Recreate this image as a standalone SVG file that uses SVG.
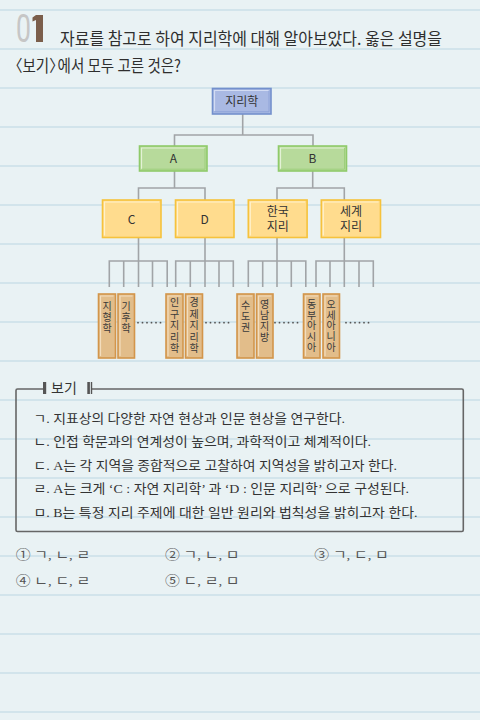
<svg xmlns="http://www.w3.org/2000/svg" width="480" height="720" viewBox="0 0 480 720">
<defs>
<style>
.rule{stroke:#d2e4eb;stroke-width:2}
.conn{stroke:#a1a4a7;stroke-width:1.6;fill:none}
.lbl{font-family:"Noto Sans CJK KR","Liberation Sans",sans-serif;font-size:12px;fill:#333;text-anchor:middle}
.leaf{font-family:"Noto Sans CJK KR",sans-serif;font-size:10px;fill:#3a3a3a;text-anchor:middle}
.q{font-family:"Noto Sans CJK KR","Liberation Sans",sans-serif;font-size:16.5px;fill:#2e2e2e}
.item{font-family:"Liberation Serif","Noto Sans CJK KR",serif;font-size:13px;fill:#333}
.ans{font-family:"Liberation Serif","Noto Sans CJK KR",serif;font-size:13px;fill:#555}
.dots{stroke:#555;stroke-width:1.8;stroke-linecap:round;stroke-dasharray:0 4.5}
</style>
</defs>
<rect width="480" height="720" fill="#e9f2f4"/>
<g id="rules">
<line class="rule" x1="0" y1="10" x2="480" y2="10"/>
<line class="rule" x1="0" y1="49" x2="480" y2="49"/>
<line class="rule" x1="0" y1="88" x2="480" y2="88"/>
<line class="rule" x1="0" y1="127" x2="480" y2="127"/>
<line class="rule" x1="0" y1="166" x2="480" y2="166"/>
<line class="rule" x1="0" y1="205" x2="480" y2="205"/>
<line class="rule" x1="0" y1="244" x2="480" y2="244"/>
<line class="rule" x1="0" y1="283" x2="480" y2="283"/>
<line class="rule" x1="0" y1="322" x2="480" y2="322"/>
<line class="rule" x1="0" y1="361" x2="480" y2="361"/>
<line class="rule" x1="0" y1="400" x2="480" y2="400"/>
<line class="rule" x1="0" y1="439" x2="480" y2="439"/>
<line class="rule" x1="0" y1="478" x2="480" y2="478"/>
<line class="rule" x1="0" y1="517" x2="480" y2="517"/>
<line class="rule" x1="0" y1="556" x2="480" y2="556"/>
<line class="rule" x1="0" y1="595" x2="480" y2="595"/>
<line class="rule" x1="0" y1="634" x2="480" y2="634"/>
<line class="rule" x1="0" y1="673" x2="480" y2="673"/>
<line class="rule" x1="0" y1="712" x2="480" y2="712"/>
</g>
<g id="header">
<text x="16" y="42" font-family="Roboto,'Liberation Sans',sans-serif" font-size="38" font-weight="400" fill="#c6c6c6" textLength="15" lengthAdjust="spacingAndGlyphs">0</text>
<path d="M36,15 H43 V42 H36 V20 L32.5,21.5 V17.5 Z" fill="#7b5e4b"/>
<text class="q" x="60" y="45" textLength="382" lengthAdjust="spacingAndGlyphs">자료를 참고로 하여 지리학에 대해 알아보았다. 옳은 설명을</text>
<g transform="translate(8,72) scale(0.88,1)">
<text class="q" x="0" y="0">〈보기〉<tspan dx="-7">에서 모두 고른 것은?</tspan></text>
</g>
</g>
<g id="connectors">
<polyline class="conn" points="242.7,114 242.7,135"/>
<polyline class="conn" points="174.5,146 174.5,135 313,135 313,146"/>
<polyline class="conn" points="174.5,171 174.5,188"/>
<polyline class="conn" points="138.5,200 138.5,188 205,188 205,200"/>
<polyline class="conn" points="312.7,171 312.7,188"/>
<polyline class="conn" points="277,200 277,188 344.3,188 344.3,200"/>
<polyline class="conn" points="138.5,238 138.5,261"/>
<polyline class="conn" points="205,238 205,261"/>
<polyline class="conn" points="277,238 277,261"/>
<polyline class="conn" points="344.3,238 344.3,261"/>
<polyline class="conn" points="109.3,287 109.3,261 167.2,261 167.2,287"/>
<line class="conn" x1="123.7" y1="261" x2="123.7" y2="287"/>
<line class="conn" x1="138.5" y1="261" x2="138.5" y2="287"/>
<line class="conn" x1="152.5" y1="261" x2="152.5" y2="287"/>
<polyline class="conn" points="175.7,287 175.7,261 233.3,261 233.3,287"/>
<line class="conn" x1="190.3" y1="261" x2="190.3" y2="287"/>
<line class="conn" x1="205" y1="261" x2="205" y2="287"/>
<line class="conn" x1="219" y1="261" x2="219" y2="287"/>
<polyline class="conn" points="248.3,287 248.3,261 305.8,261 305.8,287"/>
<line class="conn" x1="262.7" y1="261" x2="262.7" y2="287"/>
<line class="conn" x1="277" y1="261" x2="277" y2="287"/>
<line class="conn" x1="291.3" y1="261" x2="291.3" y2="287"/>
<polyline class="conn" points="316,287 316,261 373.3,261 373.3,287"/>
<line class="conn" x1="330" y1="261" x2="330" y2="287"/>
<line class="conn" x1="344.3" y1="261" x2="344.3" y2="287"/>
<line class="conn" x1="359" y1="261" x2="359" y2="287"/>
<line class="dots" x1="138" y1="322.7" x2="164" y2="322.7"/>
<line class="dots" x1="206" y1="322.7" x2="232" y2="322.7"/>
<line class="dots" x1="275" y1="322.7" x2="298" y2="322.7"/>
<line class="dots" x1="346" y1="322.7" x2="370" y2="322.7"/>
</g>
<g id="node-root">
<rect x="212.5" y="88.5" width="58.5" height="25.5" fill="#a9b9e3" stroke="#7390cc" stroke-width="1.6"/>
<polyline points="214.5,111 214.5,90.5 269,90.5" fill="none" stroke="#d3dcf3" stroke-width="1.2"/>
<polyline points="214.5,111.8 269,111.8 269,90.5" fill="none" stroke="#8ea3d8" stroke-width="1"/>
<text class="lbl" x="241.7" y="105.5">지리학</text>
</g>
<g id="node-A">
<rect x="139.5" y="146" width="67.5" height="25" fill="#b7da9b" stroke="#8fca6a" stroke-width="1.6"/>
<polyline points="141.5,169 141.5,148 205,148" fill="none" stroke="#e3f2d6" stroke-width="1.2"/>
<polyline points="141.5,169.2 205,169.2 205,148" fill="none" stroke="#9dcf7c" stroke-width="1"/>
<text class="lbl" x="173.3" y="163">A</text>
</g>
<g id="node-B">
<rect x="278.5" y="146" width="68" height="25" fill="#b7da9b" stroke="#8fca6a" stroke-width="1.6"/>
<polyline points="280.5,169 280.5,148 344.5,148" fill="none" stroke="#e3f2d6" stroke-width="1.2"/>
<polyline points="280.5,169.2 344.5,169.2 344.5,148" fill="none" stroke="#9dcf7c" stroke-width="1"/>
<text class="lbl" x="312.5" y="163">B</text>
</g>
<g id="node-C">
<rect x="102.5" y="200" width="58.5" height="37.5" fill="#ffdc8e" stroke="#f6c23c" stroke-width="1.6"/>
<polyline points="104.5,235.5 104.5,202 159,202" fill="none" stroke="#fff1cb" stroke-width="1.2"/>
<text class="lbl" x="131.7" y="223.5">C</text>
</g>
<g id="node-D">
<rect x="175.5" y="200" width="58.5" height="37.5" fill="#ffdc8e" stroke="#f6c23c" stroke-width="1.6"/>
<polyline points="177.5,235.5 177.5,202 232,202" fill="none" stroke="#fff1cb" stroke-width="1.2"/>
<text class="lbl" x="204.7" y="223.5">D</text>
</g>
<g id="node-korea">
<rect x="248.3" y="200" width="58.8" height="37.5" fill="#ffdc8e" stroke="#f6c23c" stroke-width="1.6"/>
<polyline points="250.3,235.5 250.3,202 305,202" fill="none" stroke="#fff1cb" stroke-width="1.2"/>
<text class="lbl" x="277.7" y="216">한국</text>
<text class="lbl" x="277.7" y="231">지리</text>
</g>
<g id="node-world">
<rect x="321.3" y="200" width="59.2" height="37.5" fill="#ffdc8e" stroke="#f6c23c" stroke-width="1.6"/>
<polyline points="323.3,235.5 323.3,202 378.5,202" fill="none" stroke="#fff1cb" stroke-width="1.2"/>
<text class="lbl" x="351" y="216">세계</text>
<text class="lbl" x="351" y="231">지리</text>
</g>
<g id="leaf-1">
<rect x="98.5" y="294" width="17" height="64" fill="#e2bd8a" stroke="#d3954a" stroke-width="1.6"/>
<polyline points="100.5,356 100.5,296 113.5,296" fill="none" stroke="#f3ddbd" stroke-width="1.2"/>
<text class="leaf" x="107" y="310"><tspan x="107">지</tspan><tspan x="107" dy="11">형</tspan><tspan x="107" dy="11">학</tspan></text>
</g>
<g id="leaf-2">
<rect x="118" y="294" width="16.5" height="64" fill="#e2bd8a" stroke="#d3954a" stroke-width="1.6"/>
<polyline points="120,356 120,296 132.5,296" fill="none" stroke="#f3ddbd" stroke-width="1.2"/>
<text class="leaf" x="126.2" y="310"><tspan x="126.2">기</tspan><tspan x="126.2" dy="11">후</tspan><tspan x="126.2" dy="11">학</tspan></text>
</g>
<g id="leaf-3">
<rect x="166" y="294" width="17" height="64" fill="#e2bd8a" stroke="#d3954a" stroke-width="1.6"/>
<polyline points="168,356 168,296 181,296" fill="none" stroke="#f3ddbd" stroke-width="1.2"/>
<text class="leaf" x="174.5" y="306"><tspan x="174.5">인</tspan><tspan x="174.5" dy="11.5">구</tspan><tspan x="174.5" dy="11.5">지</tspan><tspan x="174.5" dy="11.5">리</tspan><tspan x="174.5" dy="11.5">학</tspan></text>
</g>
<g id="leaf-4">
<rect x="185.5" y="294" width="17" height="64" fill="#e2bd8a" stroke="#d3954a" stroke-width="1.6"/>
<polyline points="187.5,356 187.5,296 200.5,296" fill="none" stroke="#f3ddbd" stroke-width="1.2"/>
<text class="leaf" x="194" y="306"><tspan x="194">경</tspan><tspan x="194" dy="11.5">제</tspan><tspan x="194" dy="11.5">지</tspan><tspan x="194" dy="11.5">리</tspan><tspan x="194" dy="11.5">학</tspan></text>
</g>
<g id="leaf-5">
<rect x="237" y="294" width="17" height="64" fill="#e2bd8a" stroke="#d3954a" stroke-width="1.6"/>
<polyline points="239,356 239,296 252,296" fill="none" stroke="#f3ddbd" stroke-width="1.2"/>
<text class="leaf" x="245.5" y="309"><tspan x="245.5">수</tspan><tspan x="245.5" dy="11">도</tspan><tspan x="245.5" dy="11">권</tspan></text>
</g>
<g id="leaf-6">
<rect x="256.5" y="294" width="16.5" height="64" fill="#e2bd8a" stroke="#d3954a" stroke-width="1.6"/>
<polyline points="258.5,356 258.5,296 271,296" fill="none" stroke="#f3ddbd" stroke-width="1.2"/>
<text class="leaf" x="264.7" y="308"><tspan x="264.7">영</tspan><tspan x="264.7" dy="11">남</tspan><tspan x="264.7" dy="11">지</tspan><tspan x="264.7" dy="11">방</tspan></text>
</g>
<g id="leaf-7">
<rect x="303.5" y="294" width="16.5" height="64" fill="#e2bd8a" stroke="#d3954a" stroke-width="1.6"/>
<polyline points="305.5,356 305.5,296 318,296" fill="none" stroke="#f3ddbd" stroke-width="1.2"/>
<text class="leaf" x="311.7" y="308"><tspan x="311.7">동</tspan><tspan x="311.7" dy="10.7">부</tspan><tspan x="311.7" dy="10.7">아</tspan><tspan x="311.7" dy="10.7">시</tspan><tspan x="311.7" dy="10.7">아</tspan></text>
</g>
<g id="leaf-8">
<rect x="323" y="294" width="16.5" height="64" fill="#e2bd8a" stroke="#d3954a" stroke-width="1.6"/>
<polyline points="325,356 325,296 337.5,296" fill="none" stroke="#f3ddbd" stroke-width="1.2"/>
<text class="leaf" x="331.2" y="308"><tspan x="331.2">오</tspan><tspan x="331.2" dy="10.7">세</tspan><tspan x="331.2" dy="10.7">아</tspan><tspan x="331.2" dy="10.7">니</tspan><tspan x="331.2" dy="10.7">아</tspan></text>
</g>
<g id="bogi">
<path d="M43,389 H17.5 Q16,389 16,390.5 V530 Q16,531.5 17.5,531.5 H461.8 Q463.3,531.5 463.3,530 V390.5 Q463.3,389 461.8,389 H92" fill="none" stroke="#666" stroke-width="1.6"/>
<rect x="43" y="382" width="3.2" height="12" fill="#555"/>
<text x="51" y="392.5" font-family="'Noto Sans CJK KR',sans-serif" font-size="14" fill="#333">보기</text>
<rect x="87.3" y="382" width="2.6" height="12" fill="#555"/>
<rect x="90.8" y="382" width="1.4" height="12" fill="#555"/>
<text class="item" x="33.5" y="423.3" textLength="311.5" lengthAdjust="spacingAndGlyphs">ㄱ. 지표상의 다양한 자연 현상과 인문 현상을 연구한다.</text>
<text class="item" x="33.5" y="446.3" textLength="337.5" lengthAdjust="spacingAndGlyphs">ㄴ. 인접 학문과의 연계성이 높으며, 과학적이고 체계적이다.</text>
<text class="item" x="33.5" y="469.6" textLength="363.5" lengthAdjust="spacingAndGlyphs">ㄷ. A는 각 지역을 종합적으로 고찰하여 지역성을 밝히고자 한다.</text>
<text class="item" x="33.5" y="493" textLength="375.5" lengthAdjust="spacingAndGlyphs">ㄹ. A는 크게 ‘C : 자연 지리학’ 과 ‘D : 인문 지리학’ 으로 구성된다.</text>
<text class="item" x="33.5" y="516.5" textLength="384" lengthAdjust="spacingAndGlyphs">ㅁ. B는 특정 지리 주제에 대한 일반 원리와 법칙성을 밝히고자 한다.</text>
</g>
<g id="answers">
<text class="ans" x="15.7" y="558.5" textLength="74.5" lengthAdjust="spacingAndGlyphs">① ㄱ, ㄴ, ㄹ</text>
<text class="ans" x="165" y="558.5" textLength="74.5" lengthAdjust="spacingAndGlyphs">② ㄱ, ㄴ, ㅁ</text>
<text class="ans" x="314.3" y="558.5" textLength="74.5" lengthAdjust="spacingAndGlyphs">③ ㄱ, ㄷ, ㅁ</text>
<text class="ans" x="15.7" y="585" textLength="74.5" lengthAdjust="spacingAndGlyphs">④ ㄴ, ㄷ, ㄹ</text>
<text class="ans" x="165" y="585" textLength="74.5" lengthAdjust="spacingAndGlyphs">⑤ ㄷ, ㄹ, ㅁ</text>
</g>
</svg>
